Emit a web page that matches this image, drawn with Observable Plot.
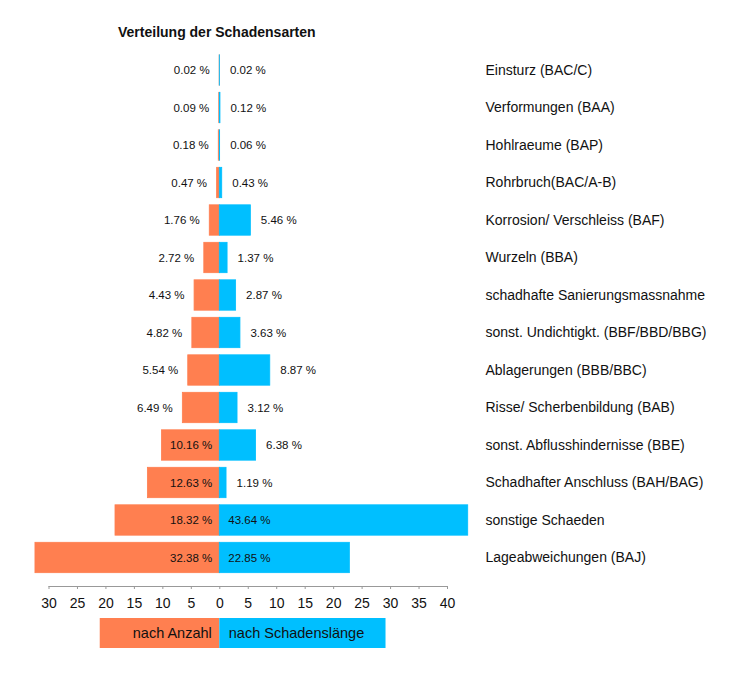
<!DOCTYPE html>
<html>
<head>
<meta charset="utf-8">
<script src="https://cdn.jsdelivr.net/npm/d3@7"></script>
<script src="https://cdn.jsdelivr.net/npm/@observablehq/plot@0.6"></script>
<style>
  body { margin: 0; background: #fff; font-family: "Liberation Sans", Arial, sans-serif; }
  #title { height: 20px; padding-top: 24px; padding-left: 118px; font-weight: bold; font-size: 14px; line-height: 16px; color: #111; }
  svg { display: block; }
</style>
</head>
<body>
<div id="title">Verteilung der Schadensarten</div>
<div id="chart"></div>
<div id="legend"></div>
<script>
const categories = [
  "Einsturz (BAC/C)",
  "Verformungen (BAA)",
  "Hohlraeume (BAP)",
  "Rohrbruch(BAC/A-B)",
  "Korrosion/ Verschleiss (BAF)",
  "Wurzeln (BBA)",
  "schadhafte Sanierungsmassnahme",
  "sonst. Undichtigkt. (BBF/BBD/BBG)",
  "Ablagerungen (BBB/BBC)",
  "Risse/ Scherbenbildung (BAB)",
  "sonst. Abflusshindernisse (BBE)",
  "Schadhafter Anschluss (BAH/BAG)",
  "sonstige Schaeden",
  "Lageabweichungen (BAJ)"
];
const nachAnzahl = [0.02, 0.09, 0.18, 0.47, 1.76, 2.72, 4.43, 4.82, 5.54, 6.49, 10.16, 12.63, 18.32, 32.38];
const nachSchadenslaenge = [0.02, 0.12, 0.06, 0.43, 5.46, 1.37, 2.87, 3.63, 8.87, 3.12, 6.38, 1.19, 43.64, 22.85];
const xTicks = [-30, -25, -20, -15, -10, -5, 0, 5, 10, 15, 20, 25, 30, 35, 40];
const legendLabels = ["nach Anzahl", "nach Schadenslänge"];
const legendExtent = [-21, 29.2];

const ORANGE = "#FF7F50";
const BLUE = "#00BFFF";

const left = categories.map((c, i) => ({cat: c, v: nachAnzahl[i], x1: -nachAnzahl[i], x2: 0}));
const right = categories.map((c, i) => ({cat: c, v: nachSchadenslaenge[i], x1: 0, x2: nachSchadenslaenge[i]}));
const fmt = v => v.toFixed(2) + " %";
const INSIDE = 10;

const W = 742;
const xOpts = {domain: [-30, 40]};
const mL = 48.5, mR = 295;

const chart = Plot.plot({
  width: W,
  height: 574,
  marginTop: 3.7,
  marginBottom: 32,
  marginLeft: mL,
  marginRight: mR,
  style: {fontFamily: "Liberation Sans, Arial, sans-serif", color: "#111"},
  x: {...xOpts},
  y: {type: "band", domain: categories, padding: 0.19, insetBottom: 6.2, round: false},
  marks: [
    Plot.barX(left, {y: "cat", x1: "x1", x2: "x2", fill: ORANGE, stroke: ORANGE, strokeWidth: 0.8}),
    Plot.barX(right, {y: "cat", x1: "x1", x2: "x2", fill: BLUE, stroke: BLUE, strokeWidth: 0.8}),
    // left labels
    Plot.text(left.filter(d => d.v < INSIDE), {y: "cat", x: "x1", text: d => fmt(d.v), textAnchor: "end", dx: -10, fontSize: 11.5}),
    Plot.text(left.filter(d => d.v >= INSIDE), {y: "cat", x: "x2", text: d => fmt(d.v), textAnchor: "end", dx: -7.5, fontSize: 11.5}),
    // right labels
    Plot.text(right.filter(d => d.v < INSIDE), {y: "cat", x: "x2", text: d => fmt(d.v), textAnchor: "start", dx: 10, fontSize: 11.5}),
    Plot.text(right.filter(d => d.v >= INSIDE), {y: "cat", x: "x1", text: d => fmt(d.v), textAnchor: "start", dx: 8.5, fontSize: 11.5}),
    Plot.frame({anchor: "bottom", stroke: "#999"}),
    Plot.axisX({ticks: xTicks, tickFormat: d => Math.abs(d), tickSize: 3, tickPadding: 9, fontSize: 14, stroke: "#999", fill: "#111", label: null}),
    Plot.axisY({anchor: "right", tickSize: 0, tickPadding: 38, fontSize: 14, fill: "#111", label: null})
  ]
});
document.getElementById("chart").appendChild(chart);

const legendData = legendLabels.map((l, i) => ({label: l, x1: Math.min(0, legendExtent[i]), x2: Math.max(0, legendExtent[i]), side: i}));
const legend = Plot.plot({
  width: W,
  height: 30,
  marginTop: 0,
  marginBottom: 0,
  marginLeft: mL,
  marginRight: mR,
  style: {fontFamily: "Liberation Sans, Arial, sans-serif", color: "#111"},
  x: {...xOpts, axis: null},
  marks: [
    Plot.rectX(legendData, {x1: "x1", x2: "x2", fill: d => d.side === 0 ? ORANGE : BLUE}),
    Plot.text(legendData.filter(d => d.side === 0), {x: "x2", text: "label", textAnchor: "end", dx: -8, fontSize: 14.5}),
    Plot.text(legendData.filter(d => d.side === 1), {x: "x1", text: "label", textAnchor: "start", dx: 9, fontSize: 14.5})
  ]
});
document.getElementById("legend").appendChild(legend);
</script>
</body>
</html>
